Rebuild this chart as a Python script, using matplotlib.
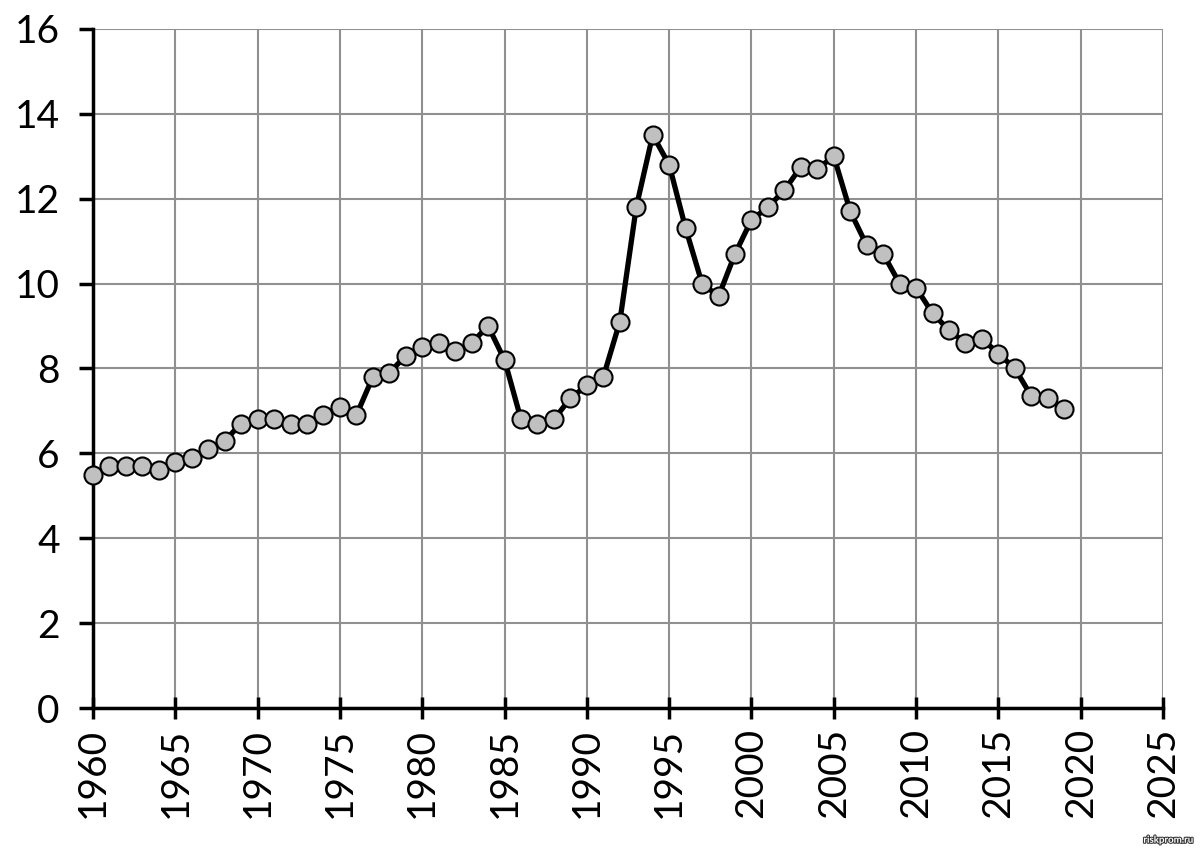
import matplotlib.pyplot as plt
import matplotlib.patheffects as pe

years = list(range(1960, 2020))
values = [5.5, 5.7, 5.7, 5.7, 5.6, 5.8, 5.9, 6.1, 6.3, 6.7,
          6.8, 6.8, 6.7, 6.7, 6.9, 7.1, 6.9, 7.8, 7.9, 8.3,
          8.5, 8.6, 8.4, 8.6, 9.0, 8.2, 6.8, 6.7, 6.8, 7.3,
          7.6, 7.8, 9.1, 11.8, 13.5, 12.8, 11.3, 10.0, 9.7, 10.7,
          11.5, 11.8, 12.2, 12.75, 12.7, 13.0, 11.7, 10.9, 10.7, 10.0,
          9.9, 9.3, 8.9, 8.6, 8.7, 8.35, 8.0, 7.35, 7.3, 7.05]

plt.rcParams['font.family'] = ['Lato', 'DejaVu Sans']

fig = plt.figure(figsize=(12, 8.49), dpi=100)
ax = fig.add_axes([0.0775, 0.166, 0.8917, 0.8])

ax.plot(years, values, color='black', linewidth=3.8, marker='o',
        markersize=13, markerfacecolor='#c0c0c0', markeredgecolor='black',
        markeredgewidth=1.5, zorder=3, clip_on=False)

ax.set_xlim(1960, 2025)
ax.set_ylim(0, 16)
ax.set_xticks(range(1960, 2026, 5))
ax.set_yticks(range(0, 17, 2))
ax.grid(True, color='#909090', linewidth=1.5)
ax.set_axisbelow(True)

for s in ['top', 'right']:
    ax.spines[s].set_visible(False)
for s in ['left', 'bottom']:
    ax.spines[s].set_linewidth(2.5)
    ax.spines[s].set_color('black')

ax.tick_params(axis='both', labelsize=28, width=2.5, length=10)
ax.tick_params(axis='x', direction='inout', length=16, pad=6)
ax.tick_params(axis='y', direction='out', pad=14)
plt.setp(ax.get_xticklabels(), rotation=90)

fig.text(0.995, 0.005, 'riskprom.ru', ha='right', va='bottom', fontsize=7,
         color='white', fontweight='bold',
         path_effects=[pe.withStroke(linewidth=1.5, foreground='#333333')])

fig.savefig('out.png', dpi=100)
